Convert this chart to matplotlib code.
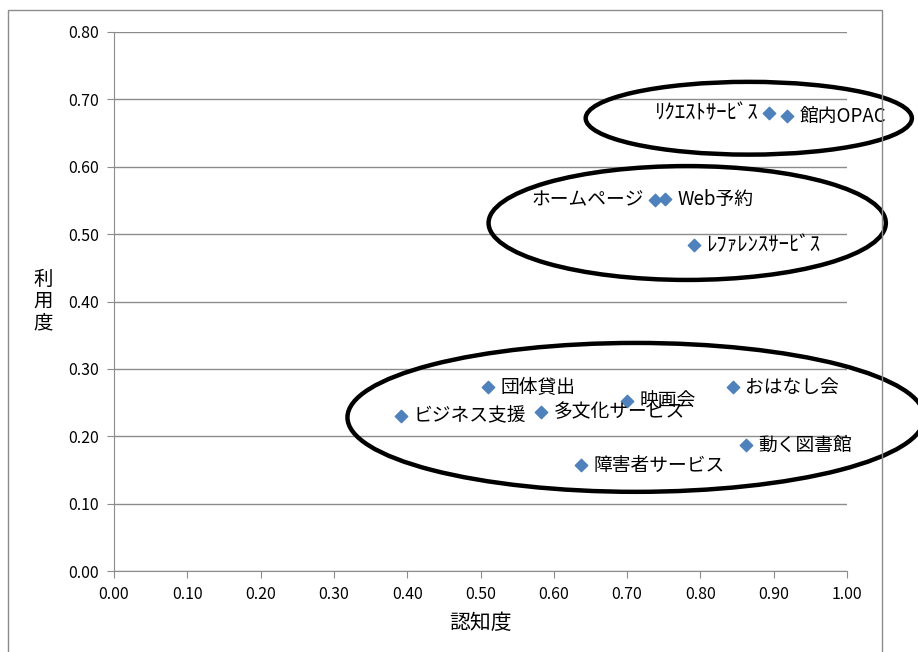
import matplotlib
matplotlib.use("Agg")
import matplotlib.pyplot as plt
from matplotlib.patches import Ellipse, Rectangle

plt.rcParams['font.family'] = ['Noto Sans CJK JP', 'DejaVu Sans']

# サービスごとの認知度・利用度
services = ['ﾘｸｴｽﾄｻｰﾋﾞｽ', '館内OPAC', 'ホームページ', 'Web予約', 'ﾚﾌｧﾚﾝｽｻｰﾋﾞｽ',
            '団体貸出', 'ビジネス支援', '多文化サービス', '映画会', 'おはなし会',
            '動く図書館', '障害者サービス']
ninchi = [0.894, 0.918, 0.738, 0.752, 0.791, 0.510, 0.392, 0.583, 0.700, 0.844, 0.862, 0.637]
riyou = [0.680, 0.675, 0.551, 0.552, 0.484, 0.273, 0.230, 0.236, 0.252, 0.273, 0.187, 0.157]
left_labels = ['ﾘｸｴｽﾄｻｰﾋﾞｽ', 'ホームページ']
small_labels = ['ﾘｸｴｽﾄｻｰﾋﾞｽ', 'ﾚﾌｧﾚﾝｽｻｰﾋﾞｽ']

# グループを囲む楕円 (中心x, 中心y, 幅, 高さ)
groups = [(0.866, 0.672, 0.445, 0.108),
          (0.782, 0.5165, 0.542, 0.169),
          (0.712, 0.228, 0.787, 0.221)]

fig = plt.figure(figsize=(9.18, 6.52), dpi=100)
fig.patches.append(Rectangle((8 / 918, -0.05), (882 - 8) / 918, 1.05 - 10 / 652,
                             transform=fig.transFigure, fill=False,
                             edgecolor='#8c8c8c', lw=1.0))
ax = fig.add_axes([114 / 918, 1 - 571 / 652, 733 / 918, 539 / 652])

ax.scatter(ninchi, riyou, marker='D', s=40, color='#4F81BD', zorder=3)
for name, x, y in zip(services, ninchi, riyou):
    fs = 15 if name in small_labels else 13.5
    if name in left_labels:
        ax.annotate(name, (x, y), xytext=(-8, 0), textcoords='offset points',
                    ha='right', va='center', fontsize=fs, zorder=4)
    else:
        ax.annotate(name, (x, y), xytext=(9, 0), textcoords='offset points',
                    ha='left', va='center', fontsize=fs, zorder=4)

for cx, cy, w, h in groups:
    ax.add_patch(Ellipse((cx, cy), w, h, fill=False, edgecolor='black',
                         lw=3.2, clip_on=False, zorder=5))

ax.set_xlim(0, 1.0)
ax.set_ylim(0, 0.8)
ax.set_xticks([i / 10 for i in range(11)])
ax.set_yticks([i / 10 for i in range(9)])
ax.set_xticklabels(['%.2f' % (i / 10) for i in range(11)], fontsize=11.5)
ax.set_yticklabels(['%.2f' % (i / 10) for i in range(9)], fontsize=11.5)
ax.yaxis.grid(True, color='#8c8c8c', lw=1.0)
ax.set_axisbelow(True)
for s in ['top', 'right']:
    ax.spines[s].set_visible(False)
for s in ['left', 'bottom']:
    ax.spines[s].set_color('#8c8c8c')
ax.tick_params(direction='out', length=5, color='#8c8c8c', pad=6)

ax.set_xlabel('認知度', fontsize=15, labelpad=6)
ax.set_ylabel('利\n用\n度', fontsize=14, rotation=0, va='center', labelpad=18,
              linespacing=1.05)

fig.savefig('out.png', dpi=100)
